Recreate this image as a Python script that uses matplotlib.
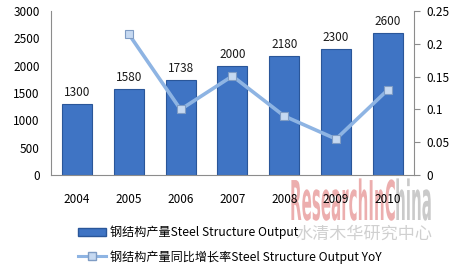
import matplotlib.pyplot as plt
from matplotlib.patches import Patch, PathPatch
from matplotlib.lines import Line2D
from matplotlib.textpath import TextPath
from matplotlib.font_manager import FontProperties
from matplotlib.transforms import Affine2D

plt.rcParams['font.family'] = ['Noto Sans CJK SC', 'DejaVu Sans']

# 数据
years = ['2004', '2005', '2006', '2007', '2008', '2009', '2010']
output = [1300, 1580, 1738, 2000, 2180, 2300, 2600]
yoy_years = ['2005', '2006', '2007', '2008', '2009', '2010']
yoy = [0.215, 0.100, 0.151, 0.090, 0.055, 0.130]

fig = plt.figure(figsize=(4.61, 2.69), dpi=100)
ax = fig.add_axes([0.1106, 0.349, 0.787, 0.61])
ax.patch.set_visible(False)

x = list(range(len(years)))
ax.bar(x, output, width=0.58, color='#3F74C4', edgecolor='#2A5699', linewidth=0.8, zorder=2)
for xi, v in zip(x, output):
    ax.text(xi, v + 90, str(v), ha='center', va='bottom', fontsize=8.5, color='#1a1a1a')

ax.set_xlim(-0.5, len(years) - 0.5)
ax.set_ylim(0, 3000)
ax.set_yticks(range(0, 3001, 500))
ax.set_xticks(x)
ax.set_xticklabels(years)
ax.tick_params(axis='both', labelsize=8.5, length=0, pad=13)
ax.tick_params(axis='y', pad=8)
for s in ['top', 'right']:
    ax.spines[s].set_visible(False)
for s in ['left', 'bottom']:
    ax.spines[s].set_color('#8c8c8c')

ax2 = ax.twinx()
ax2.patch.set_visible(False)
xy = [years.index(y) for y in yoy_years]
ax2.plot(xy, yoy, color='#8EB4E3', linewidth=2.6, marker='s', markersize=6,
         markerfacecolor='#C6D9F1', markeredgecolor='#7F9CC4', markeredgewidth=0.8, zorder=3)
ax2.set_ylim(0, 0.25)
ax2.set_yticks([0, 0.05, 0.1, 0.15, 0.2, 0.25])
ax2.set_yticklabels(['0', '0.05', '0.1', '0.15', '0.2', '0.25'])
ax2.tick_params(axis='y', labelsize=8.5, length=4, color='#8c8c8c', pad=5)
for s in ['top', 'left', 'bottom']:
    ax2.spines[s].set_visible(False)
ax2.spines['right'].set_color('#8c8c8c')

# 图例
handles = [Patch(facecolor='#3F74C4', edgecolor='#2A5699'),
           Line2D([0], [0], color='#8EB4E3', linewidth=2.2, marker='s', markersize=6,
                  markerfacecolor='#C6D9F1', markeredgecolor='#7F9CC4')]
labels = ['钢结构产量Steel Structure Output', '钢结构产量同比增长率Steel Structure Output YoY']
fig.legend(handles, labels, loc='lower left', bbox_to_anchor=(0.145, -0.02), frameon=False,
           fontsize=8.7, handlelength=2.3, labelspacing=0.9, handletextpad=0.4)

# 水印 (窄高字体)
prop = FontProperties(family='Liberation Sans Narrow', weight='bold')
tp_all = TextPath((0, 0), 'ResearchInChina', size=1, prop=prop)
tp_red = TextPath((0, 0), 'ResearchInC', size=1, prop=prop)
tp_grey = TextPath((0, 0), 'hina', size=1, prop=prop)
ext = tp_all.get_extents()
red_w = tp_red.get_extents().x1
sx = (140 / 461) / ext.width
sy = (40 / 269) / 0.73
x0, y0 = 290 / 461, 1 - 220 / 269
t = Affine2D().scale(sx, sy).translate(x0, y0) + fig.transFigure
fig.add_artist(PathPatch(tp_red, transform=t, facecolor='#E89A9A', edgecolor='none',
                         alpha=0.8, zorder=-1))
t2 = Affine2D().translate(red_w + 0.02, 0).scale(sx, sy).translate(x0, y0) + fig.transFigure
fig.add_artist(PathPatch(tp_grey, transform=t2, facecolor='#BDBDBD', edgecolor='none',
                         alpha=0.8, zorder=-1))
fig.text(295 / 461, 1 - 234 / 269, '水清木华研究中心', fontsize=12.3, color='#C8C8C8',
         alpha=0.85, va='center', zorder=-1)

fig.savefig('out.png', dpi=100)
